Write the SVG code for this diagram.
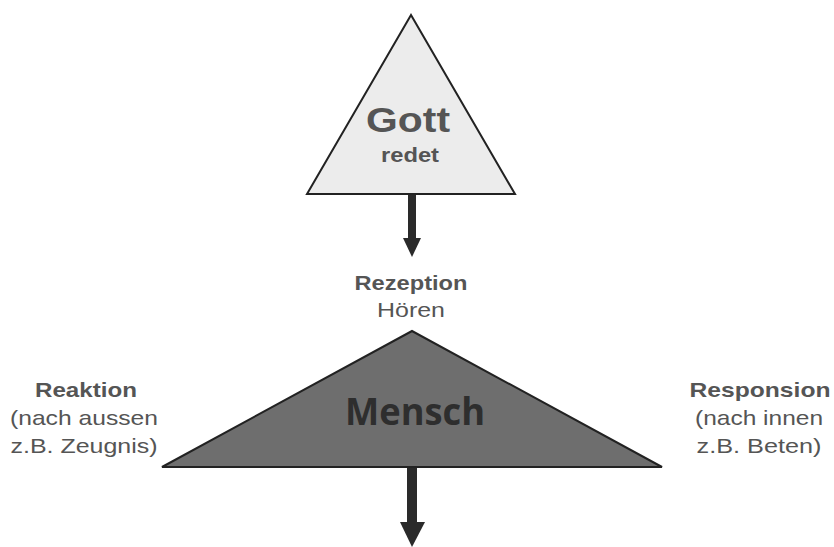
<svg xmlns="http://www.w3.org/2000/svg" width="834" height="547" viewBox="0 0 834 547">
<style>
.lbl{font-family:"Liberation Sans",Arial,sans-serif;fill:#555;text-anchor:middle}
.b{font-weight:bold}
.shaft{stroke:#2a2a2a;fill:none}
</style>
<defs>
<marker id="h1" markerUnits="userSpaceOnUse" markerWidth="20" markerHeight="20" refX="10" refY="2" orient="auto-start-reverse" viewBox="0 0 20 20">
<path d="M1,0 L19,0 L10,19 Z" fill="#2a2a2a" transform="rotate(0)"/>
</marker>
</defs>
<rect width="834" height="547" fill="#fff"/>
<g id="gott">
<polygon points="411,15 307,194 515,194" fill="#ececec" stroke="#222" stroke-width="2"/>
<text class="lbl b" x="408" y="132" font-size="35" textLength="84" lengthAdjust="spacingAndGlyphs">Gott</text>
<text class="lbl b" x="410" y="162" font-size="20" textLength="58" lengthAdjust="spacingAndGlyphs">redet</text>
</g>
<g id="rezeption">
<text class="lbl b" x="411" y="290" font-size="21" textLength="113" lengthAdjust="spacingAndGlyphs">Rezeption</text>
<text class="lbl" x="411" y="317" font-size="21" textLength="68" lengthAdjust="spacingAndGlyphs">Hören</text>
</g>
<g id="mensch">
<polygon points="412,331 162,467 662,467" fill="#6e6e6e" stroke="#222" stroke-width="2"/>
<text x="415" y="425" font-family="'Open Sans','Noto Sans',sans-serif" font-weight="bold" font-size="38" fill="#2e2e2e" text-anchor="middle" textLength="140" lengthAdjust="spacingAndGlyphs">Mensch</text>
</g>
<g id="reaktion">
<text class="lbl b" x="86" y="397" font-size="21" textLength="102" lengthAdjust="spacingAndGlyphs">Reaktion</text>
<text class="lbl" x="84" y="425" font-size="21" textLength="148" lengthAdjust="spacingAndGlyphs">(nach aussen</text>
<text class="lbl" x="84" y="453" font-size="21" textLength="147" lengthAdjust="spacingAndGlyphs">z.B. Zeugnis)</text>
</g>
<g id="responsion">
<text class="lbl b" x="760" y="397" font-size="21" textLength="141" lengthAdjust="spacingAndGlyphs">Responsion</text>
<text class="lbl" x="759" y="425" font-size="21" textLength="128" lengthAdjust="spacingAndGlyphs">(nach innen</text>
<text class="lbl" x="759" y="453" font-size="21" textLength="125" lengthAdjust="spacingAndGlyphs">z.B. Beten)</text>
</g>
<g id="connectors">
<line class="shaft" x1="412" y1="195" x2="412" y2="240" stroke-width="8"/>
<polygon points="403,238 421,238 412,257" fill="#2a2a2a"/>
<line class="shaft" x1="412" y1="468" x2="412" y2="524" stroke-width="10"/>
<polygon points="400,522 425,522 412,547" fill="#2a2a2a"/>
</g>
</svg>
